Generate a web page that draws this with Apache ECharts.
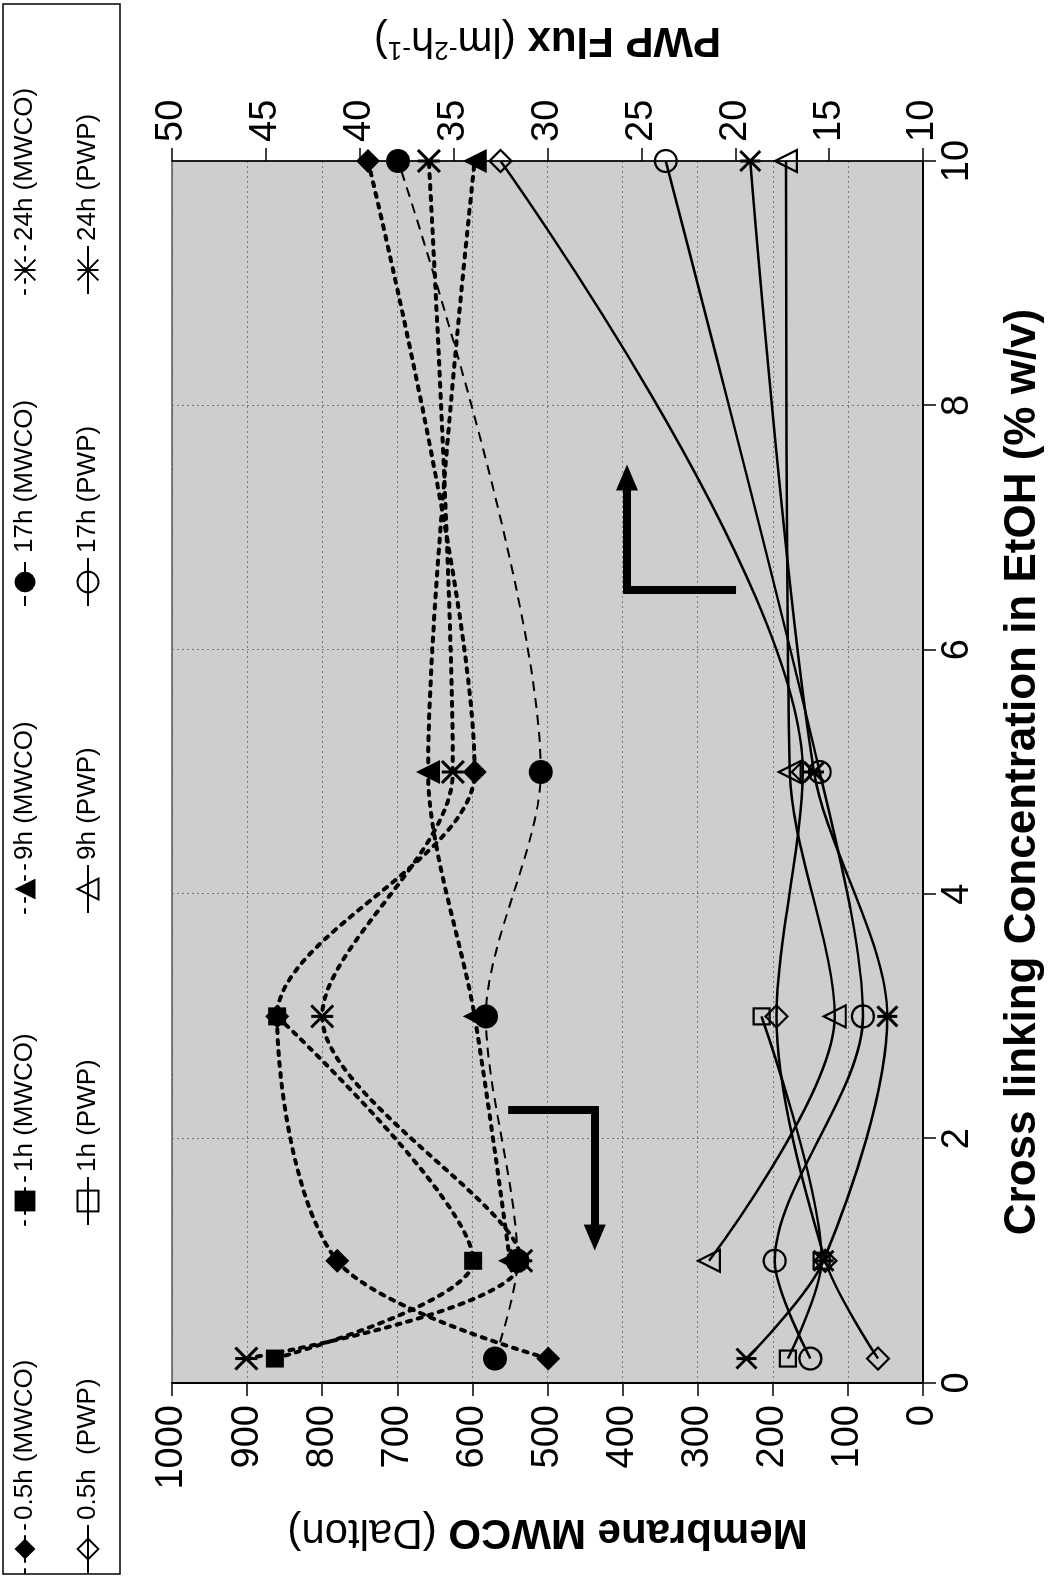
<!DOCTYPE html>
<html><head><meta charset="utf-8">
<script src="https://cdn.jsdelivr.net/npm/echarts@6/dist/echarts.min.js"></script>
<style>
html,body{margin:0;padding:0;width:1054px;height:1578px;overflow:hidden;background:#fff;}
#chart{position:absolute;left:0;top:1578px;width:1578px;height:1054px;transform-origin:0 0;transform:rotate(-90deg);}
</style></head><body><div id="chart"></div>
<script>
// Cross-linking concentration (% w/v)
const conc = [0.2, 1, 3, 5, 10];
// Membrane MWCO (Dalton)
const mwco05 = [499, 780, 860, 597, 739];
const mwco1  = [863, 599, 860, null, null];
const mwco9  = [null, 550, 597, 659, 597];
const mwco17 = [570, 540, 582, 509, 699];
const mwco24 = [901, 535, 800, 626, 658];
// PWP flux (l m-2 h-1)
const pwp05 = [12.4, 15.2, 17.8, 16.4, 32.5];
const pwp1  = [17.2, 15.4, 18.6, null, null];
const pwp9  = [null, 21.4, 14.7, 17.1, 17.3];
const pwp17 = [16.0, 17.9, 13.2, 15.5, 23.7];
const pwp24 = [19.4, 15.3, 11.9, 15.8, 19.2];
// axis ranges [min, max, step]
const concAxis = [0, 10, 2];
const mwcoAxis = [0, 1000, 100];
const pwpAxis = [10, 50, 5];
// annotation arrows (data space)
const arrowMwco = [[2.23, 547], [2.23, 437], [1.19, 437]];
const arrowPwp = [[6.49, 20.17], [6.49, 25.76], [7.41, 25.76]];

const names = ['0.5h (MWCO)','1h (MWCO)','9h (MWCO)','17h (MWCO)','24h (MWCO)',
               '0.5h  (PWP)','1h (PWP)','9h (PWP)','17h (PWP)','24h (PWP)'];
const starPath = 'path://M0,0L20,20M20,0L0,20M10,0L10,20';
const symbols = ['diamond','rect','triangle','circle', starPath];
const symSizes = [24, 18, 24, 24, 22];
const mwcoSets = [mwco05, mwco1, mwco9, mwco17, mwco24];
const pwpSets = [pwp05, pwp1, pwp9, pwp17, pwp24];

function pairs(vals){ const out=[]; vals.forEach((v,i)=>{ if(v!==null) out.push([conc[i], v]); }); return out; }

const FONT = '"Liberation Sans", Arial, sans-serif';
const SMOOTH = 0.3;
const series = [];
mwcoSets.forEach((vals, i) => {
  const isStar = i === 4;
  series.push({
    name: names[i], type: 'line', yAxisIndex: 0, smooth: SMOOTH,
    data: pairs(vals), symbol: symbols[i], symbolSize: symSizes[i],
    lineStyle: i === 3 ? {color:'#000', width: 2, type: [10, 7]} : {color:'#000', width: 4, type: [4, 7], cap:'round'},
    itemStyle: isStar ? {color:'none', borderColor:'#000', borderWidth: 3} : {color:'#000', borderColor:'#000', borderWidth: 0},
    z: 3, animation: false
  });
});
pwpSets.forEach((vals, i) => {
  const isStar = i === 4;
  series.push({
    name: names[5 + i], type: 'line', yAxisIndex: 1, smooth: SMOOTH,
    data: pairs(vals), symbol: symbols[i], symbolSize: symSizes[i] - 2,
    lineStyle: {color:'#000', width: 2.5, type:'solid'},
    itemStyle: {color: isStar ? 'none' : 'rgba(0,0,0,0)', borderColor:'#000', borderWidth: isStar ? 3 : 2.2},
    z: 3, animation: false
  });
});
function arrowLine(pts){
  return [
    [{coord: pts[0], symbol:'none'}, {coord: pts[1], symbol:'none'}],
    [{coord: pts[1], symbol:'none'}, {coord: pts[2], symbol:'triangle'}]
  ];
}
series[0].markLine = {silent:true, animation:false, symbolSize:[22,26], label:{show:false},
  lineStyle:{color:'#000', width:8, type:'solid', cap:'square'}, emphasis:{disabled:true},
  data: arrowLine(arrowMwco)};
series[5].markLine = {silent:true, animation:false, symbolSize:[22,26], label:{show:false},
  lineStyle:{color:'#000', width:8, type:'solid', cap:'square'}, emphasis:{disabled:true},
  data: arrowLine(arrowPwp)};

const legendX = [4, 352, 664, 971, 1283];
const legends = names.map((n, i) => ({
  data: [n], left: legendX[i % 5], top: i < 5 ? 12 : 75, padding: 0,
  itemWidth: 48, itemHeight: 26, selectedMode: false,
  textStyle: {fontFamily: FONT, fontSize: 26, color: '#000'}
}));

const chart = echarts.init(document.getElementById('chart'), null, {renderer:'canvas'});
chart.setOption({
  backgroundColor: '#fff',
  animation: false,
  textStyle: {fontFamily: FONT},
  graphic: [{type:'rect', shape:{x:4, y:3, width:1570, height:117}, style:{fill:'none', stroke:'#000', lineWidth:1.5}, z: 0}],
  legend: legends,
  grid: {left:195, right:161, top:172, bottom:131, show:true, backgroundColor:'#cecece', borderColor:'#000', borderWidth:1},
  xAxis: {
    type:'value', min: concAxis[0], max: concAxis[1], interval: concAxis[2],
    name: 'Cross linking Concentration in EtOH (% w/v)', nameLocation:'middle', nameGap: 78,
    nameTextStyle: {fontFamily: FONT, fontSize: 44, fontWeight:'bold', color:'#000'},
    axisLine: {lineStyle:{color:'#000', width:2}},
    axisTick: {show:true, length:13, lineStyle:{color:'#000', width:1.5}},
    axisLabel: {fontFamily: FONT, fontSize: 38, color:'#000', margin: 16},
    splitLine: {show:true, lineStyle:{color:'#777', width:1, type:[2,3]}}
  },
  yAxis: [{
    type:'value', position:'left', min: mwcoAxis[0], max: mwcoAxis[1], interval: mwcoAxis[2],
    name: '{b|Membrane MWCO }{n|(Dalton)}', nameLocation:'middle', nameGap: 128, nameRotate: 90,
    nameTextStyle: {color:'#000', rich: {b:{fontFamily:FONT, fontSize:42, fontWeight:'bold', color:'#000'}, n:{fontFamily:FONT, fontSize:42, color:'#000'}}},
    axisLine: {show:true, lineStyle:{color:'#000', width:2}},
    axisTick: {show:true, length:13, lineStyle:{color:'#000', width:1.5}},
    axisLabel: {fontFamily: FONT, fontSize: 38, color:'#000', margin: 22, formatter: v => String(v)},
    splitLine: {show:true, lineStyle:{color:'#777', width:1, type:[2,3]}}
  }, {
    type:'value', position:'right', min: pwpAxis[0], max: pwpAxis[1], interval: pwpAxis[2],
    name: '{b|PWP Flux }{n|(lm}{s|-2}{n|h}{s|-1}{n|)}', nameLocation:'middle', nameGap: 99, nameRotate: 90,
    nameTextStyle: {color:'#000', rich: {b:{fontFamily:FONT, fontSize:42, fontWeight:'bold', color:'#000'}, n:{fontFamily:FONT, fontSize:42, color:'#000'}, s:{fontFamily:FONT, fontSize:26, color:'#000', verticalAlign:'top', padding:[0,0,18,0]}}},
    axisLine: {show:true, lineStyle:{color:'#000', width:1.5}},
    axisTick: {show:true, length:13, lineStyle:{color:'#000', width:1.5}},
    axisLabel: {fontFamily: FONT, fontSize: 38, color:'#000', margin: 19},
    splitLine: {show:false}
  }],
  series: series
});
</script></body></html>
